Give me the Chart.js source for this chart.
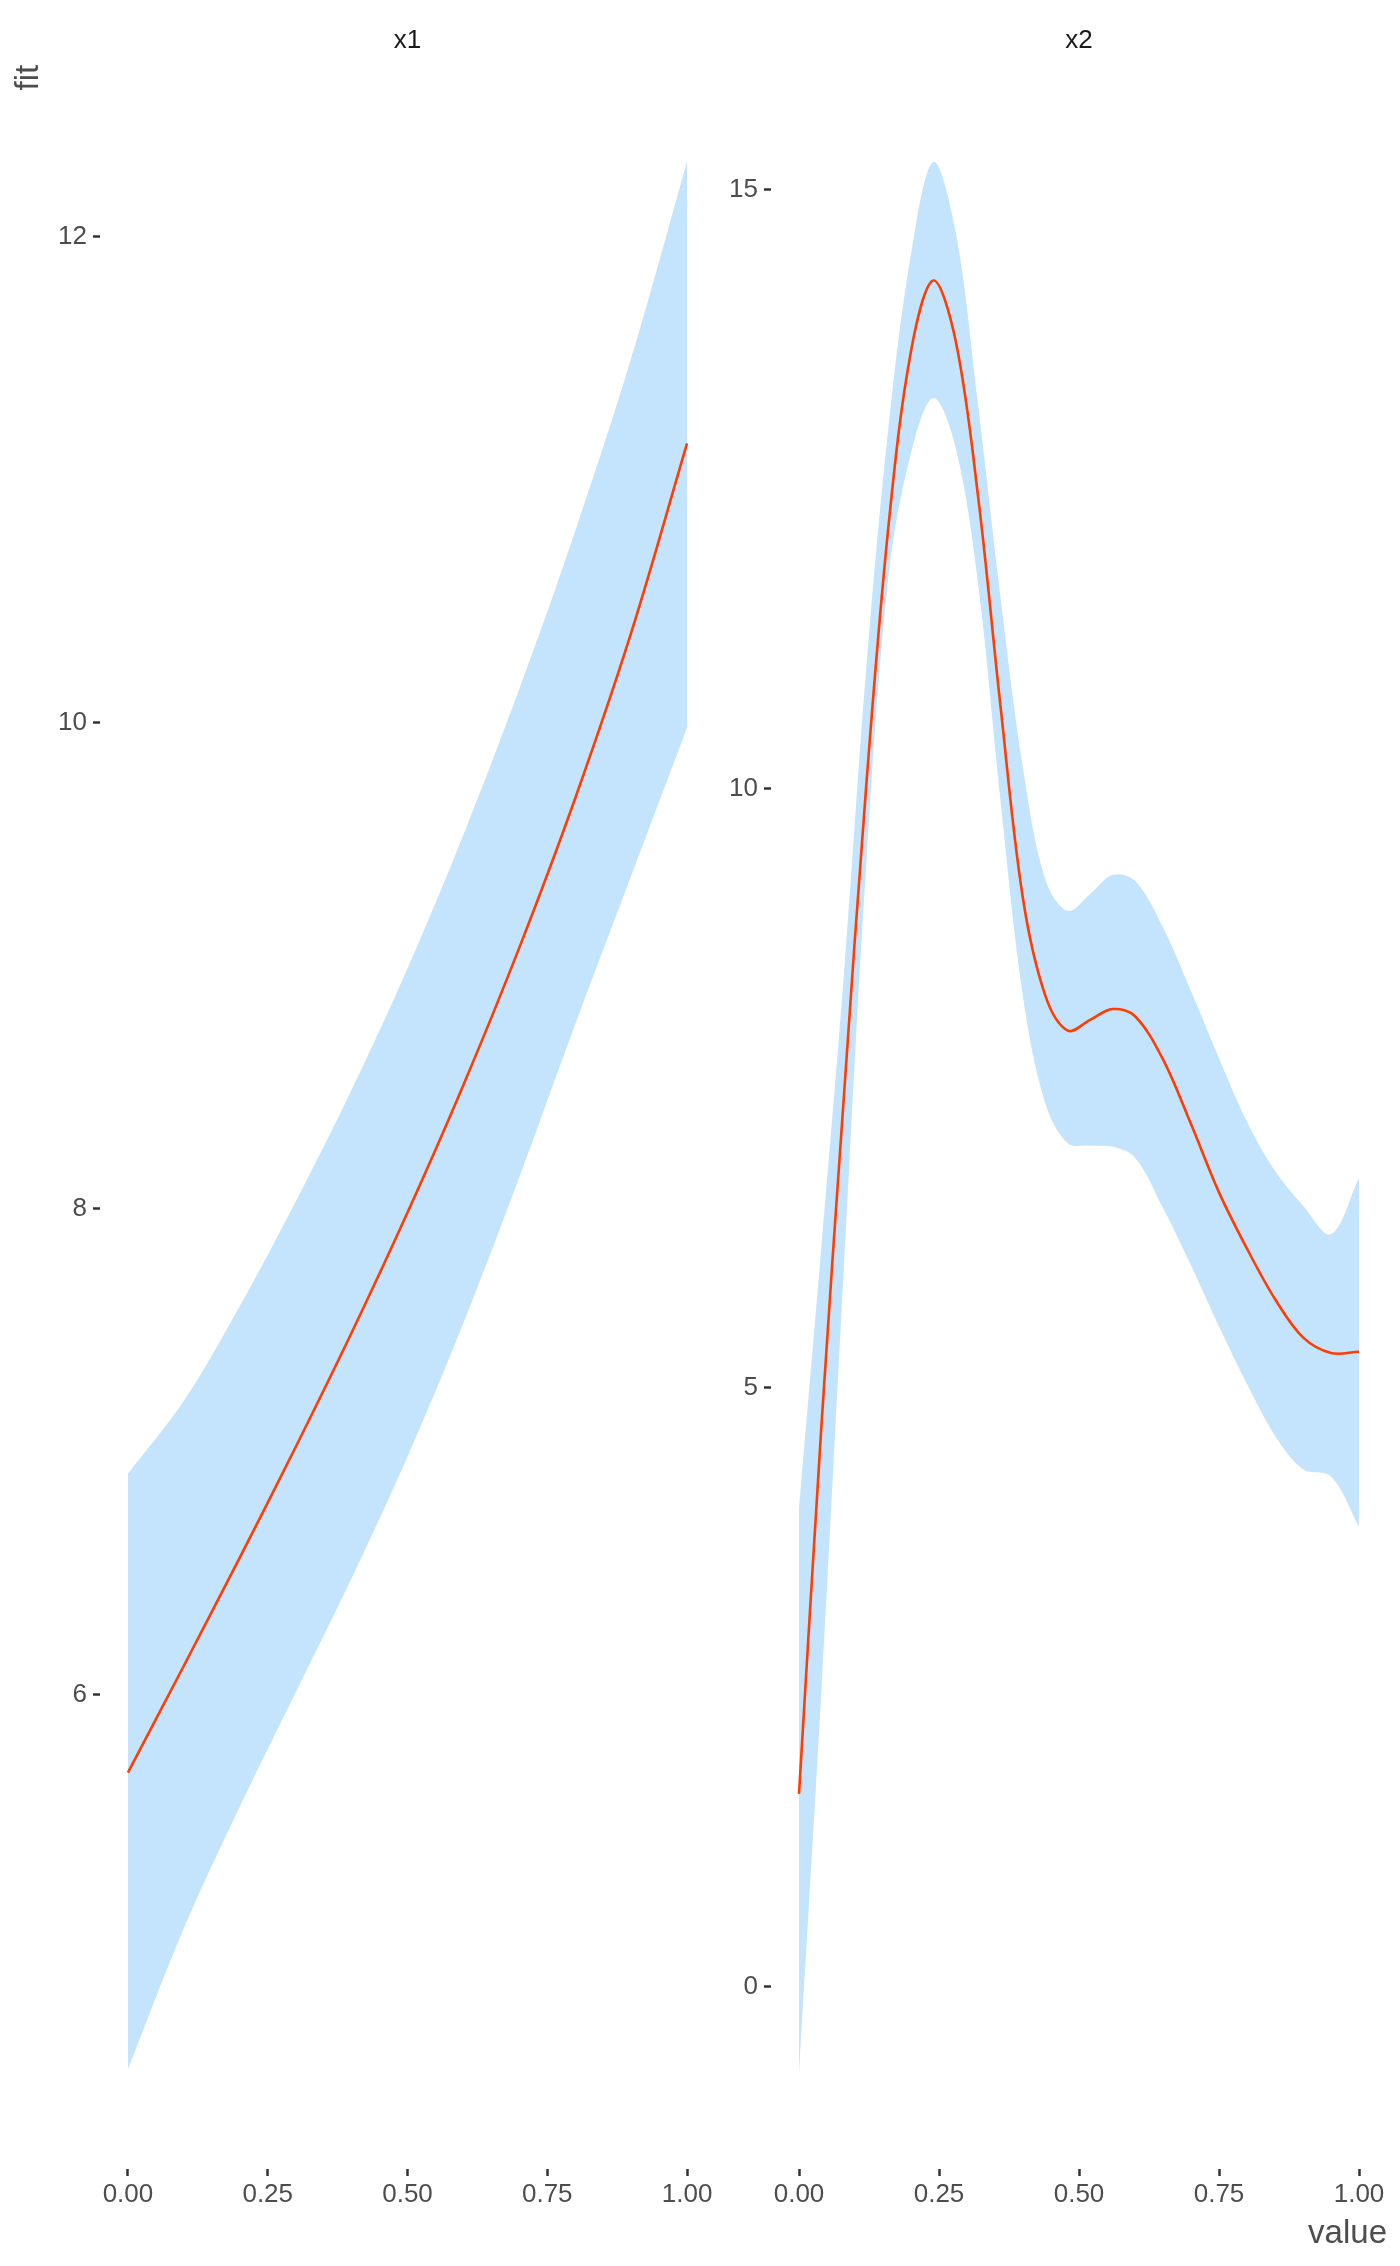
<!DOCTYPE html>
<html>
<head>
<meta charset="utf-8">
<script src="https://cdn.jsdelivr.net/npm/chart.js@4"></script>
<style>
  body { margin: 0; background: #fff; }
  #page { position: relative; width: 1400px; height: 2266px; }
  .panel { position: absolute; top: 0; height: 2266px; }
</style>
</head>
<body>
<div id="page">
  <div class="panel" style="left:0; width:740px;"><canvas id="chartX1"></canvas></div>
  <div class="panel" style="left:715px; width:685px;"><canvas id="chartX2"></canvas></div>
</div>
<script>
// panel x1
const x1Values = [0, 0.1, 0.2, 0.3, 0.4, 0.5, 0.6, 0.7, 0.8, 0.9, 1];
const x1Fit   = [5.68, 6.12, 6.565, 7.02, 7.49, 7.985, 8.51, 9.075, 9.69, 10.37, 11.15];
const x1Upper = [6.91, 7.21, 7.60, 8.03, 8.49, 8.99, 9.54, 10.14, 10.79, 11.50, 12.31];
const x1Lower = [4.46, 5.04, 5.54, 6.01, 6.48, 6.98, 7.53, 8.13, 8.76, 9.37, 9.98];
const x1YTicks = [6, 8, 10, 12];

// panel x2
const x2Values = [0, 0.04, 0.08, 0.12, 0.16, 0.2, 0.24, 0.28, 0.32, 0.36, 0.4, 0.44, 0.48, 0.52, 0.56, 0.6, 0.65, 0.7, 0.75, 0.8, 0.85, 0.9, 0.95, 1];
const x2Fit   = [1.61, 4.68, 7.42, 10.02, 12.20, 13.65, 14.24, 13.73, 12.43, 10.68, 9.08, 8.27, 7.98, 8.07, 8.16, 8.10, 7.74, 7.20, 6.63, 6.16, 5.74, 5.42, 5.29, 5.30];
const x2Upper = [4.00, 6.18, 8.44, 11.00, 13.03, 14.46, 15.23, 14.64, 13.19, 11.59, 10.17, 9.24, 8.98, 9.12, 9.28, 9.23, 8.84, 8.31, 7.75, 7.22, 6.81, 6.52, 6.28, 6.75];
const x2Lower = [-0.72, 2.47, 5.99, 9.36, 11.78, 12.80, 13.26, 12.84, 11.70, 9.89, 8.26, 7.37, 7.04, 7.02, 7.01, 6.92, 6.50, 6.02, 5.51, 5.03, 4.60, 4.32, 4.26, 3.84];
const x2YTicks = [0, 5, 10, 15];

const xTicks = [0, 0.25, 0.5, 0.75, 1];

Chart.defaults.font.family = '"Liberation Sans", Arial, Helvetica, sans-serif';
Chart.defaults.animation = false;

const lineColor = "#FF3D00";
const bandColor = "rgb(196, 228, 253)";
const tickColor = "#4D4D4D";

function pts(xs, ys){
    return xs.map((x, i) => ({x: x, y: ys[i]}));
}

function makePanel(canvasId, opt){
    const ctx = document.getElementById(canvasId).getContext("2d");
    return new Chart(ctx, {
        type: "line",
        data: {
            datasets: [
                {
                    label: "fit",
                    data: pts(opt.xs, opt.fit),
                    borderColor: lineColor,
                    borderWidth: 2.6,
                    pointRadius: 0,
                    fill: false,
                    tension: 0.35
                },
                {
                    label: "upper",
                    data: pts(opt.xs, opt.upper),
                    borderWidth: 0,
                    borderColor: "rgba(0,0,0,0)",
                    backgroundColor: bandColor,
                    pointRadius: 0,
                    fill: "+1",
                    tension: 0.35
                },
                {
                    label: "lower",
                    data: pts(opt.xs, opt.lower),
                    borderWidth: 0,
                    borderColor: "rgba(0,0,0,0)",
                    pointRadius: 0,
                    fill: false,
                    tension: 0.35
                }
            ]
        },
        options: {
            responsive: true,
            maintainAspectRatio: false,
            layout: { padding: { left: 0, right: opt.padRight, top: 0, bottom: 0 } },
            plugins: {
                legend: { display: false },
                tooltip: { enabled: false },
                title: {
                    display: true,
                    text: opt.strip,
                    fullSize: false,
                    color: "#1A1A1A",
                    font: { size: 26, weight: "normal" },
                    padding: { top: 25, bottom: 8.6 }
                }
            },
            scales: {
                x: {
                    type: "linear",
                    min: -0.05,
                    max: 1.05,
                    afterBuildTicks: s => { s.ticks = xTicks.map(v => ({value: v})); },
                    afterFit: s => { s.height = 97; },
                    grid: { drawOnChartArea: false, drawTicks: true, tickLength: 7, tickWidth: 2.5, tickColor: "#333333" },
                    border: { display: false },
                    ticks: {
                        color: tickColor,
                        font: { size: 26 },
                        padding: 3,
                        maxRotation: 0,
                        callback: v => Number(v).toFixed(2)
                    },
                    title: {
                        display: opt.showXTitle,
                        text: "value",
                        align: "end",
                        color: "#4D4D4D",
                        font: { size: 33 },
                        padding: { top: 0, bottom: 12 }
                    }
                },
                y: {
                    type: "linear",
                    min: opt.yMin,
                    max: opt.yMax,
                    afterBuildTicks: s => { s.ticks = opt.yTicks.map(v => ({value: v})); },
                    afterFit: s => { s.width = opt.axisWidth; },
                    grid: { drawOnChartArea: false, drawTicks: true, tickLength: 7, tickWidth: 2.5, tickColor: "#333333" },
                    border: { display: false },
                    ticks: {
                        color: tickColor,
                        font: { size: 26 },
                        padding: 6,
                        callback: v => String(v)
                    },
                    title: {
                        display: opt.showYTitle,
                        text: "fit",
                        align: "end",
                        color: "#4D4D4D",
                        font: { size: 33 },
                        padding: { top: 9, bottom: 0 }
                    }
                }
            }
        }
    });
}

makePanel("chartX1", {
    xs: x1Values, fit: x1Fit, upper: x1Upper, lower: x1Lower,
    yTicks: x1YTicks, yMin: 4.049, yMax: 12.708,
    strip: "x1", axisWidth: 100, padRight: 25,
    showXTitle: false, showYTitle: true
});

makePanel("chartX2", {
    xs: x2Values, fit: x2Fit, upper: x2Upper, lower: x2Lower,
    yTicks: x2YTicks, yMin: -1.52, yMax: 16.04,
    strip: "x2", axisWidth: 56, padRight: 13,
    showXTitle: true, showYTitle: false
});
</script>
</body>
</html>
